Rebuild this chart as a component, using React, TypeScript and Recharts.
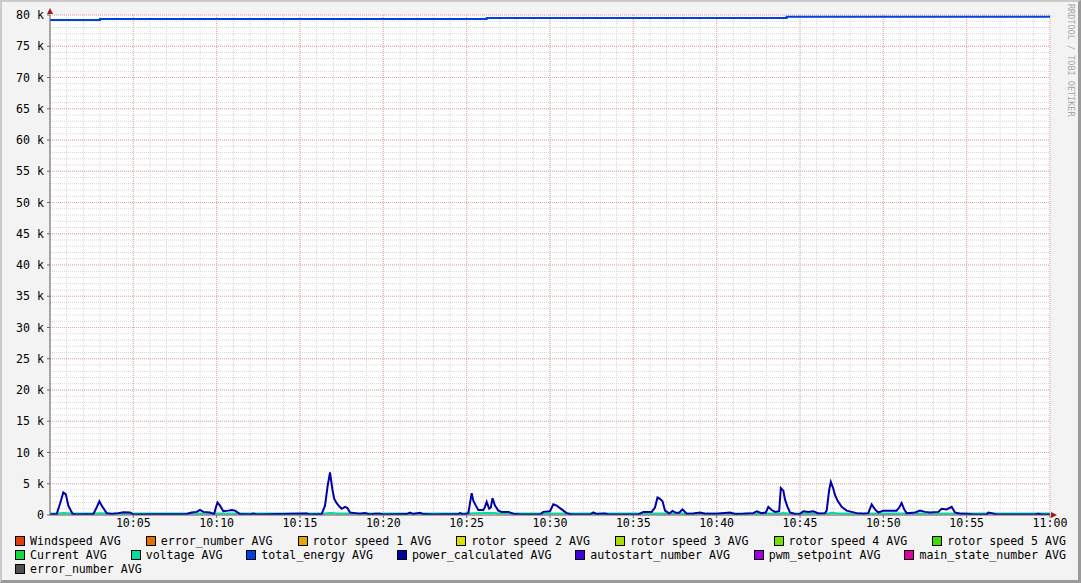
import { LineChart, Line, XAxis, YAxis, CartesianGrid, Legend } from "recharts";

// minutes after 10:00
const powerMinutes = [
  0, 0.4, 0.6, 0.8, 0.95, 1.1, 1.35, 1.6, 2.6, 2.8, 2.96, 3.15, 3.4, 3.7, 4.1, 4.4, 4.8, 5.0,
  8.2, 8.5, 8.8, 9.0, 9.2, 9.6, 9.85, 9.95, 10.05, 10.2, 10.4, 10.7, 10.9, 11.1, 11.4, 12.0, 12.2, 12.4,
  15.4, 15.6, 16.3, 16.5, 16.65, 16.8, 16.95, 17.05, 17.2, 17.35, 17.5, 17.7, 17.85, 18.0, 18.3, 18.6, 18.9, 19.2,
  19.5, 19.8, 20.0, 21.4, 21.6, 21.8, 22.2, 22.4, 23.0, 24.5, 24.6, 24.8, 25.1, 25.3, 25.4, 25.55, 25.7,
  26.0, 26.1, 26.2, 26.35, 26.45, 26.55, 26.7, 26.9, 27.1, 27.5, 27.8, 28.2, 29.4, 29.6, 30.0, 30.2, 30.4,
  30.6, 30.8, 31.0, 31.3, 32.4, 32.6, 32.8, 33.3, 33.5, 35.3, 35.6, 36.1, 36.3, 36.45, 36.6, 36.75, 36.9,
  37.15, 37.35, 37.55, 37.75, 37.95, 38.2, 38.6, 39.0, 39.3, 40.0, 40.8, 41.1, 41.6, 42.2, 42.4, 42.7,
  42.95, 43.1, 43.3, 43.5, 43.75, 43.85, 44.0, 44.1, 44.25, 44.4, 44.8, 45.0, 45.2, 45.5, 45.8, 46.1,
  46.5, 46.6, 46.75, 46.85, 47.0, 47.1, 47.25, 47.5, 47.8, 48.1, 48.4, 48.8, 49.1, 49.3, 49.5, 49.7,
  50.0, 50.4, 50.8, 50.95, 51.1, 51.25, 51.4, 51.9, 52.2, 52.5, 52.8, 53.3, 53.5, 53.8, 54.1, 54.3,
  54.6, 55.0, 55.4, 56.2, 56.3, 56.5, 56.8, 59.1, 59.3, 59.5, 60.0,
];
const powerWatts = [
  80, 150, 1800, 3600, 3300, 1500, 200, 80, 150, 1200, 2200, 1300, 300, 150, 300, 450, 400, 80,
  150, 400, 500, 800, 500, 400, 150, 1200, 2000, 1500, 600, 700, 800, 700, 150, 80, 250, 80,
  250, 80, 150, 1500, 4500, 6800, 4000, 2600, 1900, 1400, 1000, 1300, 1100, 400, 300, 200, 300, 80,
  200, 200, 80, 150, 400, 150, 350, 150, 80, 150, 300, 80, 300, 3500, 2300, 1500, 800,
  800, 1300, 2100, 1000, 1200, 2700, 1500, 700, 500, 500, 200, 80, 80, 500, 600, 1700, 1500,
  1100, 700, 300, 80, 80, 400, 150, 250, 80, 80, 500, 500, 1200, 2800, 2600, 2200, 700,
  250, 650, 350, 350, 900, 200, 250, 400, 200, 200, 400, 150, 200, 300, 600, 300,
  400, 1300, 800, 500, 600, 4300, 3900, 2500, 1300, 400, 80, 200, 600, 500, 600, 250,
  300, 700, 4000, 5300, 4200, 3200, 2300, 1300, 700, 500, 300, 200, 300, 1700, 900, 400,
  700, 700, 700, 1200, 1900, 900, 300, 400, 700, 500, 400, 500, 1000, 900, 1300, 400,
  200, 200, 80, 80, 400, 300, 80, 80, 200, 80, 80,
];

const voltageMinutes = [0, 0.5, 0.8, 1.3, 2.7, 3.0, 3.4, 16.5, 16.8, 17.3, 25.2, 25.4, 26.2, 26.6, 27.0, 43.8, 44.0, 44.3, 46.7, 46.9, 47.3, 60];
const voltageValues = [230, 240, 320, 240, 235, 290, 235, 240, 330, 250, 240, 300, 320, 330, 240, 240, 310, 240, 240, 340, 250, 230];

const energyMinutes = [0, 3.0, 26.2, 44.2, 60];
const energyValues = [79200, 79350, 79520, 79730, 79730];

const xTickMinutes = [5, 10, 15, 20, 25, 30, 35, 40, 45, 50, 55, 60];
const xTickLabels = ["10:05", "10:10", "10:15", "10:20", "10:25", "10:30", "10:35", "10:40", "10:45", "10:50", "10:55", "11:00"];
const yTicks = [0, 5000, 10000, 15000, 20000, 25000, 30000, 35000, 40000, 45000, 50000, 55000, 60000, 65000, 70000, 75000, 80000];

const legendRows = [
  [
    { name: "Windspeed AVG", color: "#e04010" },
    { name: "error_number AVG", color: "#e07000" },
    { name: "rotor speed 1 AVG", color: "#e0a800" },
    { name: "rotor speed 2 AVG", color: "#dede00" },
    { name: "rotor speed 3 AVG", color: "#a8de00" },
    { name: "rotor speed 4 AVG", color: "#78e000" },
    { name: "rotor speed 5 AVG", color: "#40dc00" },
  ],
  [
    { name: "Current AVG", color: "#10dc40" },
    { name: "voltage AVG", color: "#00dca0" },
    { name: "total_energy AVG", color: "#0040e0" },
    { name: "power_calculated AVG", color: "#0000a8" },
    { name: "autostart_number AVG", color: "#4000e0" },
    { name: "pwm_setpoint AVG", color: "#a000e0" },
    { name: "main_state_number AVG", color: "#e000a0" },
  ],
  [{ name: "error_number AVG", color: "#505050" }],
];

const minorX = Array.from({ length: 61 }, (_, i) => i);
const minorY = Array.from({ length: 81 }, (_, i) => i * 1000);
const majorX = [0, ...xTickMinutes];

const powerData = powerMinutes.map((t, i) => ({ t, v: powerWatts[i] }));
const voltageData = voltageMinutes.map((t, i) => ({ t, v: voltageValues[i] }));
const energyData = energyMinutes.map((t, i) => ({ t, v: energyValues[i] }));

const mono = "'DejaVu Sans Mono', monospace";

const LegendBox = () => (
  <div style={{ fontFamily: mono, fontSize: 11.6, color: "#000", width: 1081, textAlign: "left" }}>
    {legendRows.map((row, r) => (
      <div
        key={r}
        style={{
          display: "flex",
          justifyContent: row.length > 1 ? "space-between" : "flex-start",
          paddingLeft: 15,
          paddingRight: 15,
          height: 14,
          alignItems: "center",
          boxSizing: "border-box",
        }}
      >
        {row.map((it, i) => (
          <span key={i} style={{ display: "flex", alignItems: "center", whiteSpace: "pre" }}>
            <span
              style={{
                width: 10,
                height: 10,
                boxSizing: "border-box",
                border: "1px solid #000",
                background: it.color,
                marginRight: 5,
                display: "inline-block",
              }}
            />
            {it.name}
          </span>
        ))}
      </div>
    ))}
  </div>
);

const App = () => {
  return (
    <div style={{ position: "relative", width: 1081, height: 583, background: "#f3f3f3", overflow: "hidden" }}>
      <style>{"body{margin:0}"}</style>
      <LineChart width={1081} height={583} margin={{ top: 15, right: 31, bottom: 48, left: 0 }}>
        <CartesianGrid
          fill="#ffffff"
          stroke="#d6d6d6"
          strokeDasharray="1 1"
          horizontalValues={minorY}
          verticalValues={minorX}
        />
        <CartesianGrid
          stroke="#e8a4a4"
          strokeDasharray="1 1"
          horizontalValues={yTicks}
          verticalValues={majorX}
        />
        <XAxis
          dataKey="t"
          type="number"
          domain={[0, 60]}
          allowDataOverflow
          ticks={xTickMinutes}
          interval={0}
          height={20}
          tickSize={3}
          tickMargin={1}
          tickFormatter={(v) => xTickLabels[xTickMinutes.indexOf(v)] ?? ""}
          tick={{ fontFamily: mono, fontSize: 11.6, fill: "#000" }}
          axisLine={{ stroke: "#6a6a6a" }}
          tickLine={{ stroke: "#6a6a6a" }}
        />
        <YAxis
          type="number"
          domain={[0, 80000]}
          allowDataOverflow
          ticks={yTicks}
          interval={0}
          width={50}
          tickSize={3}
          tickMargin={3}
          tickFormatter={(v) => (v === 0 ? "0" : `${v / 1000} k`)}
          tick={{ fontFamily: mono, fontSize: 11.6, fill: "#000" }}
          axisLine={{ stroke: "#6a6a6a" }}
          tickLine={{ stroke: "#6a6a6a" }}
        />
        <Line data={voltageData} dataKey="v" type="linear" stroke="#00dca0" strokeWidth={2} dot={false} isAnimationActive={false} />
        <Line data={energyData} dataKey="v" type="stepAfter" stroke="#0040e0" strokeWidth={2} dot={false} isAnimationActive={false} />
        <Line data={powerData} dataKey="v" type="linear" stroke="#0000a8" strokeWidth={2} dot={false} isAnimationActive={false} />
        <Legend
          layout="horizontal"
          verticalAlign="middle"
          align="center"
          wrapperStyle={{ position: "absolute", left: 0, top: 534, width: 1081 }}
          content={() => <LegendBox />}
        />
      </LineChart>
      <svg width={1081} height={583} style={{ position: "absolute", left: 0, top: 0, pointerEvents: "none" }}>
        <polygon points="47,14 53,14 50,8" fill="#a01818" />
        <polygon points="1051,512 1051,518 1057,515" fill="#a01818" />
      </svg>
      <div
        style={{
          position: "absolute",
          left: 1066,
          top: 4,
          writingMode: "vertical-rl",
          fontFamily: mono,
          fontSize: 8.5,
          color: "#a8a8a8",
          whiteSpace: "pre",
        }}
      >
        RRDTOOL / TOBI OETIKER
      </div>
      <div
        style={{
          position: "absolute",
          inset: 0,
          boxSizing: "border-box",
          borderTop: "2px solid #cbcbcb",
          borderLeft: "2px solid #cbcbcb",
          borderRight: "3px solid #9a9a9a",
          borderBottom: "3px solid #9a9a9a",
          pointerEvents: "none",
        }}
      />
    </div>
  );
};

export default App;
